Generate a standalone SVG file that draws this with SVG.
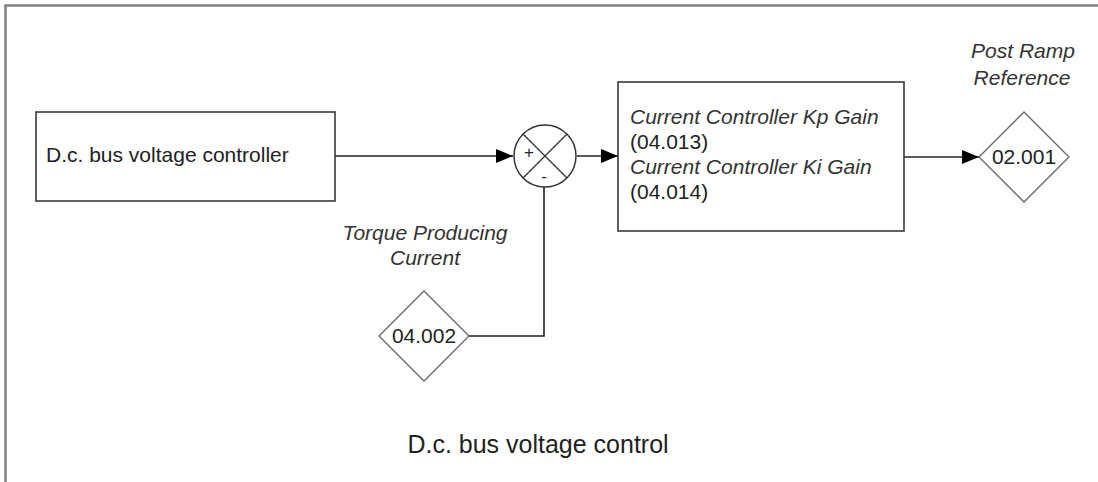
<svg xmlns="http://www.w3.org/2000/svg" width="1098" height="482" viewBox="0 0 1098 482">
<style>
  .frame{fill:none;stroke:#808080;stroke-width:2.5}
  .box{fill:#fff;stroke:#3a3a3a;stroke-width:1.6}
  .dia{fill:#fff;stroke:#666;stroke-width:1.3}
  .wire{fill:none;stroke:#222;stroke-width:1.6}
  text{font-family:"Liberation Sans",Arial,sans-serif;fill:#222}
  .t{font-size:21px}
  .it{font-size:21px;font-style:italic;fill:#333}
  .title{font-size:25px}
</style>
<defs>
  <marker id="arr" markerUnits="userSpaceOnUse" markerWidth="18" markerHeight="14" refX="17" refY="7" orient="auto">
    <path d="M0,0 L17,7 L0,14 Z" fill="#000"/>
  </marker>
</defs>
<rect width="1098" height="482" fill="#fff"/>
<path class="frame" d="M5.5,482 L5.5,5.5 L1098,5.5"/>

<g id="connectors">
  <path class="wire" d="M335,156 L513,156" marker-end="url(#arr)"/>
  <path class="wire" d="M577,156 L618,156" marker-end="url(#arr)"/>
  <path class="wire" d="M904,157 L979,157" marker-end="url(#arr)"/>
  <path class="wire" d="M469,336 L544,336 L544,187"/>
</g>

<g id="dc-bus-controller">
  <rect class="box" x="36" y="112" width="299" height="89"/>
  <text class="t" x="46" y="162">D.c. bus voltage controller</text>
</g>

<g id="summing-junction">
  <circle cx="545" cy="156" r="31" fill="#fff" stroke="#333" stroke-width="1.5"/>
  <path d="M523,134 L567,178 M567,134 L523,178" stroke="#333" stroke-width="1.3" fill="none"/>
  <text x="529" y="158" font-size="17" text-anchor="middle">+</text>
  <text x="544" y="182" font-size="17" text-anchor="middle">-</text>
</g>

<g id="current-controller">
  <rect class="box" x="618" y="82" width="286" height="149"/>
  <text class="it" x="630" y="124">Current Controller Kp Gain</text>
  <text class="t" x="630" y="149">(04.013)</text>
  <text class="it" x="630" y="174">Current Controller Ki Gain</text>
  <text class="t" x="630" y="199">(04.014)</text>
</g>

<g id="post-ramp-reference">
  <path class="dia" d="M1024,112 L1069,157 L1024,202 L979,157 Z"/>
  <text class="t" x="1024" y="164" text-anchor="middle">02.001</text>
  <text class="it" x="1023" y="58" text-anchor="middle">Post Ramp</text>
  <text class="it" x="1022" y="85" text-anchor="middle">Reference</text>
</g>

<g id="torque-producing-current">
  <path class="dia" d="M424,291 L469,336 L424,381 L379,336 Z"/>
  <text class="t" x="424" y="343" text-anchor="middle">04.002</text>
  <text class="it" x="425" y="240" text-anchor="middle">Torque Producing</text>
  <text class="it" x="425" y="265" text-anchor="middle">Current</text>
</g>

<text class="title" x="538" y="453" text-anchor="middle">D.c. bus voltage control</text>
</svg>
